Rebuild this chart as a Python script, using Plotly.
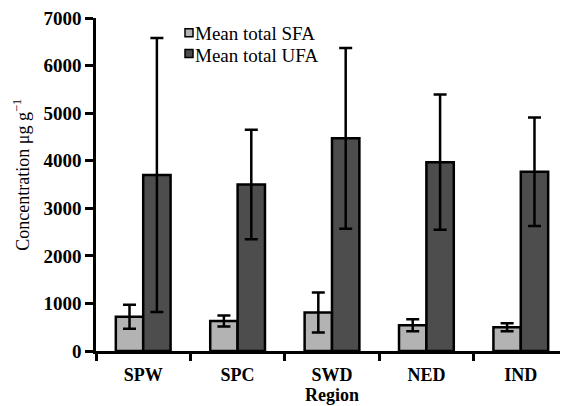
import plotly.graph_objects as go

regions = ["SPW", "SPC", "SWD", "NED", "IND"]
sfa_mean = [720, 630, 810, 540, 500]
sfa_err = [250, 115, 420, 125, 85]
ufa_mean = [3700, 3500, 4470, 3970, 3770]
ufa_err = [2880, 1150, 1900, 1420, 1140]
series_names = ["Mean total SFA", "Mean total UFA"]
series_colors = ["#b3b3b3", "#4d4d4d"]

serif = "Liberation Serif"

fig = go.Figure()
for name, color, mean, err in [(series_names[0], series_colors[0], sfa_mean, sfa_err),
                               (series_names[1], series_colors[1], ufa_mean, ufa_err)]:
    fig.add_trace(go.Bar(
        x=regions, y=mean, name=name, showlegend=False,
        marker=dict(color=color, line=dict(color="black", width=2.5)),
        error_y=dict(type="data", array=err, visible=True, color="black", thickness=2.5, width=6.5),
    ))

# figure is drawn inside the page's default 8px body margin
W, H = 560, 398
L, T, B = 88, 5, 55
pw, ph = W - L, H - T - B
def px(x):
    return (x - L) / pw
def py(y):
    return 1 - (y - T) / ph

# compact legend: small boxes right next to text (figure px)
legend_rows = [(16, 21), (37, 43)]  # (box top, text centre)
for (btop, tc), name, color in zip(legend_rows, series_names, series_colors):
    fig.add_shape(type="rect", xref="paper", yref="paper",
                  x0=px(177), x1=px(185), y0=py(btop + 8), y1=py(btop),
                  fillcolor=color, line=dict(color="black", width=1.5))
    fig.add_annotation(xref="paper", yref="paper", x=px(185), y=py(tc),
                       xanchor="left", yanchor="middle", showarrow=False,
                       text=name, font=dict(family=serif, size=19, color="black"))

# y-axis title (placed as in the reference, slightly above centre)
fig.add_annotation(xref="paper", yref="paper", x=px(14), y=py(164),
                   xanchor="center", yanchor="middle", showarrow=False, textangle=-90,
                   text="Concentration μg g<sup>−1</sup>",
                   font=dict(family=serif, size=18, color="black"))

fig.update_layout(
    width=W, height=H,
    margin=dict(l=L, r=0, t=T, b=B),
    paper_bgcolor="white", plot_bgcolor="white",
    barmode="group", bargap=0.42, bargroupgap=0,
    font=dict(family=serif, color="black", size=17),
    showlegend=False,
)
fig.update_xaxes(
    type="category", range=[-0.5, 4.5],
    showline=True, linecolor="black", linewidth=2.5,
    ticks="outside", ticklen=7, tickwidth=2.5, tickcolor="black", tickson="boundaries",
    ticklabelstandoff=6,
    tickfont=dict(family=serif, size=18, color="black", weight="bold"),
    title=dict(text="<b>Region</b>", font=dict(family=serif, size=18), standoff=0),
    showgrid=False, zeroline=False,
)
fig.update_yaxes(
    range=[0, 7000], tickvals=[0, 1000, 2000, 3000, 4000, 5000, 6000, 7000],
    showline=True, linecolor="black", linewidth=2.5,
    ticks="outside", ticklen=8, tickwidth=2.5, tickcolor="black",
    ticklabeloverflow="allow",
    tickfont=dict(family=serif, size=19, color="black", weight="bold"),
    showgrid=False, zeroline=False,
)

fig.write_html("out.html")
